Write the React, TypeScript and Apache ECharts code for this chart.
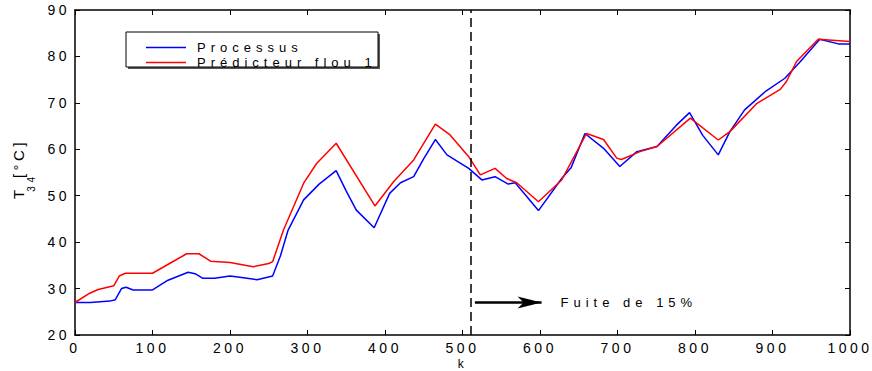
import React, { useEffect, useRef } from "react";
import * as echarts from "echarts";

// Processus (blue)
const processusK = [0, 20, 45, 52, 60, 66, 75, 100, 120, 146, 155, 165, 180, 200, 215, 235, 255, 265, 275, 295, 315, 337, 350, 363, 386, 406, 420, 437, 450, 465, 480, 508, 525, 542, 559, 568, 598, 628, 640, 658, 682, 703, 725, 751, 776, 793, 810, 830, 845, 864, 892, 916, 936, 961, 985, 1000];
const processusT = [27.0, 27.0, 27.3, 27.6, 30.0, 30.3, 29.7, 29.7, 31.8, 33.5, 33.2, 32.2, 32.2, 32.7, 32.4, 31.9, 32.7, 37.0, 42.6, 49.1, 52.5, 55.4, 51.0, 46.9, 43.1, 50.5, 52.8, 54.1, 58.0, 62.1, 58.8, 55.9, 53.4, 54.1, 52.5, 52.8, 46.8, 53.7, 56.0, 63.4, 60.2, 56.3, 59.5, 60.6, 65.2, 67.9, 63.0, 58.8, 63.8, 68.5, 72.6, 75.3, 78.9, 83.7, 82.7, 82.7];

// Prédicteur flou 1 (red)
const predicteurK = [0, 19, 30, 50, 57, 65, 100, 144, 160, 175, 200, 230, 250, 255, 269, 295, 312, 337, 387, 411, 437, 465, 484, 508, 523, 542, 557, 570, 598, 628, 660, 682, 699, 705, 729, 751, 794, 830, 845, 880, 910, 918, 931, 959, 1000];
const predicteurT = [27.0, 29.0, 29.8, 30.6, 32.7, 33.3, 33.3, 37.5, 37.5, 35.9, 35.6, 34.7, 35.4, 35.8, 42.6, 52.7, 57.0, 61.3, 47.8, 53.0, 57.7, 65.4, 63.1, 58.4, 54.5, 55.9, 53.7, 52.8, 48.7, 53.4, 63.4, 62.1, 58.1, 57.8, 59.5, 60.6, 66.7, 62.0, 63.8, 69.9, 72.9, 74.6, 78.9, 83.7, 83.2];

// Annotation (fuite)
const leakK = 510;
const arrowStartK = 516;
const arrowEndK = 602;
const arrowT = 27;
const leakLabel = "Fuite de 15%";

const seriesNames = ["Processus", "Prédicteur flou 1"];
const xTicks = { min: 0, max: 1000, interval: 100 };
const yTicks = { min: 20, max: 90, interval: 10 };

const FONT = "Liberation Sans";
const FONT_WIDE = "Arial, 'Liberation Sans', sans-serif";

export default function App() {
  const ref = useRef<HTMLDivElement>(null);

  useEffect(() => {
    if (!ref.current) return;
    const chart = echarts.init(ref.current, undefined, { renderer: "svg" });
    const pairs = (ks: number[], vs: number[]) => ks.map((k, i) => [k, vs[i]]);

    const axisCommon = {
      axisLine: { show: true, onZero: false, lineStyle: { color: "#000", width: 1.5 } },
      axisTick: { show: true, inside: true, length: 5, lineStyle: { color: "#000", width: 1 } },
      splitLine: { show: false },
    };

    chart.setOption({
      animation: false,
      backgroundColor: "#fff",
      grid: { left: 75, width: 775, top: 10, height: 325, containLabel: false, outerBoundsMode: "none" },
      legend: {
        orient: "vertical",
        left: 141,
        top: 35,
        icon: "rect",
        itemWidth: 40,
        itemHeight: 1.5,
        itemGap: 0,
        data: seriesNames,
        textStyle: { fontFamily: FONT_WIDE, fontSize: 13, color: "#000", lineHeight: 15, padding: [0, 0, 0, 6] },
      },
      graphic: [
        { type: "rect", z: 0, shape: { x: 128, y: 34, width: 252, height: 35 }, style: { fill: "#555" }, silent: true },
        { type: "rect", z: 1, shape: { x: 126, y: 32, width: 252, height: 35 }, style: { fill: "#fff", stroke: "#000", lineWidth: 1 }, silent: true },
      ],
      xAxis: [
        {
          type: "value",
          ...xTicks,
          position: "bottom",
          ...axisCommon,
          axisLabel: { fontFamily: FONT, fontSize: 14, color: "#000", margin: 6, formatter: (v: number) => String(v) },
          name: "k",
          nameLocation: "middle",
          nameGap: 22,
          nameMoveOverlap: false,
          nameTextStyle: { fontFamily: FONT, fontSize: 12, lineHeight: 13, color: "#000" },
        },
        {
          type: "value",
          ...xTicks,
          position: "top",
          ...axisCommon,
          axisLabel: { show: false },
        },
      ],
      yAxis: [
        {
          type: "value",
          ...yTicks,
          position: "left",
          ...axisCommon,
          axisLabel: { fontFamily: FONT, fontSize: 14, color: "#000", margin: 5 },
          name: "T{sub|34} [°C]",
          nameLocation: "middle",
          nameGap: 39,
          nameMoveOverlap: false,
          nameRotate: 90,
          nameTextStyle: {
            fontFamily: FONT,
            fontSize: 15,
            color: "#000",
            lineHeight: 18,
            rich: {
              sub: { fontFamily: FONT, fontSize: 10, color: "#000", verticalAlign: "bottom", lineHeight: 36 },
            },
          },
        },
        {
          type: "value",
          ...yTicks,
          position: "right",
          ...axisCommon,
          axisLabel: { show: false },
        },
      ],
      series: [
        {
          name: seriesNames[0],
          type: "line",
          data: pairs(processusK, processusT),
          showSymbol: false,
          symbol: "none",
          color: "#0000ff",
          lineStyle: { color: "#0000ff", width: 1.5 },
          z: 3,
          markLine: {
            silent: true,
            symbol: "none",
            label: { show: false },
            data: [
              { xAxis: leakK, lineStyle: { color: "#000", width: 1.5, type: [9, 5] } },
            ],
          },
        },
        {
          name: seriesNames[1],
          type: "line",
          data: pairs(predicteurK, predicteurT),
          showSymbol: false,
          symbol: "none",
          color: "#ff0000",
          lineStyle: { color: "#ff0000", width: 1.5 },
          z: 4,
          markLine: {
            silent: true,
            symbol: ["none", "arrow"],
            symbolSize: [9, 24],
            data: [
              [
                { coord: [arrowStartK, arrowT], lineStyle: { color: "#000", width: 2.5, type: "solid" } },
                {
                  coord: [arrowEndK, arrowT],
                  label: {
                    show: true,
                    position: "end",
                    formatter: leakLabel,
                    distance: 19,
                    fontFamily: FONT_WIDE,
                    fontSize: 13,
                    color: "#000",
                  },
                },
              ],
            ],
          },
        },
      ],
    });
    return () => chart.dispose();
  }, []);

  return (
    <>
      <style>{`#chart-root svg text { letter-spacing: 3.5px; } #chart-root svg text[style*="Arial"] { letter-spacing: 5px; }`}</style>
      <div
        id="chart-root"
        ref={ref}
        style={{ position: "fixed", left: 0, top: 0, width: 872, height: 371 }}
      />
    </>
  );
}
